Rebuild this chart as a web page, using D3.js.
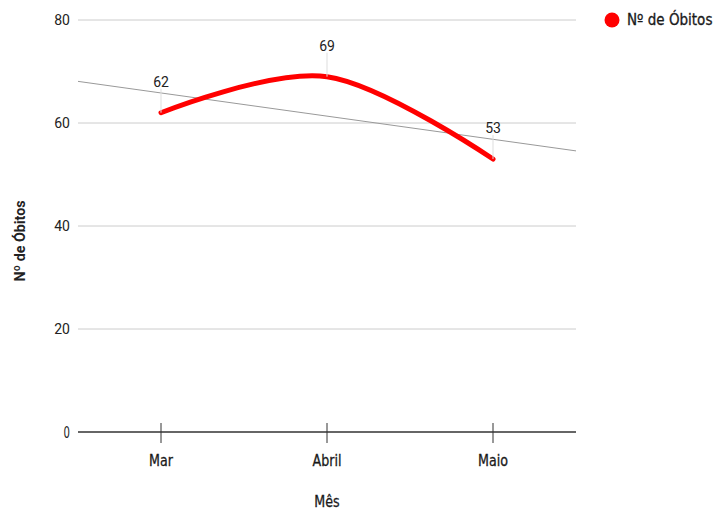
<!DOCTYPE html>
<html>
<head>
<meta charset="utf-8">
<script src="https://cdn.jsdelivr.net/npm/d3@7"></script>
<style>
  body { margin: 0; background: #fff; }
  svg { display: block; }
</style>
</head>
<body>
<svg id="chart" width="713" height="510"></svg>
<script>
// Monthly deaths
const months = ["Mar", "Abril", "Maio"];
const obitos = [62, 69, 53];
const yTicks = [0, 20, 40, 60, 80];
const seriesName = "Nº de Óbitos";
const xTitle = "Mês";
const yTitle = "Nº de Óbitos";

const svg = d3.select("#chart");
const plotLeft = 78, plotRight = 576, plotTop = 20, plotBottom = 432;

const x = d3.scalePoint().domain(months).range([plotLeft, plotRight]).padding(0.5);
const y = d3.scaleLinear().domain([0, 80]).range([plotBottom, plotTop]);

const condensed = "'DejaVu Sans Condensed', 'DejaVu Sans', sans-serif";
const plain = "Roboto, 'Liberation Sans', Arial, sans-serif";

// Squeeze text horizontally to a narrow face
function narrow(sel, factor) {
  sel.each(function () {
    const w = this.getComputedTextLength();
    d3.select(this).attr("textLength", w * factor).attr("lengthAdjust", "spacingAndGlyphs");
  });
}

// Horizontal gridlines
svg.append("g")
  .selectAll("line")
  .data(yTicks.filter(d => d > 0))
  .join("line")
  .attr("x1", plotLeft).attr("x2", plotRight)
  .attr("y1", d => y(d)).attr("y2", d => y(d))
  .attr("stroke", "#cccccc").attr("stroke-width", 1);

// Y tick labels
svg.append("g")
  .selectAll("text")
  .data(yTicks)
  .join("text")
  .attr("x", 70).attr("y", d => y(d))
  .attr("dy", "0.36em")
  .attr("text-anchor", "end")
  .attr("font-family", d => d === 0 ? condensed : plain)
  .attr("font-size", d => d === 0 ? 16 : 14)
  .attr("fill", "#222")
  .text(d => d)
  .filter(d => d === 0)
  .call(narrow, 0.7);

// Linear trendline (least squares on month index)
const idx = months.map((_, i) => i);
const mx = d3.mean(idx), my = d3.mean(obitos);
const slope = d3.sum(idx, i => (i - mx) * (obitos[i] - my)) / d3.sum(idx, i => (i - mx) ** 2);
const intercept = my - slope * mx;
const step = x.step();
const xAtIndex = i => x(months[0]) + i * step;
const iLeft = (plotLeft - x(months[0])) / step;
const iRight = (plotRight - x(months[0])) / step;
svg.append("line")
  .attr("x1", xAtIndex(iLeft)).attr("y1", y(intercept + slope * iLeft))
  .attr("x2", xAtIndex(iRight)).attr("y2", y(intercept + slope * iRight))
  .attr("stroke", "#999").attr("stroke-width", 1);

// Smoothed series line
const line = d3.line()
  .x((d, i) => x(months[i]))
  .y(d => y(d))
  .curve(d3.curveCardinal.tension(0));
svg.append("path")
  .datum(obitos)
  .attr("d", line)
  .attr("fill", "none")
  .attr("stroke", "#ff0000")
  .attr("stroke-width", 5)
  .attr("stroke-linecap", "round")
  .attr("stroke-linejoin", "round");

// Value annotations with leader lines
const ann = svg.append("g");
obitos.forEach((v, i) => {
  const px = x(months[i]), py = y(v);
  ann.append("line")
    .attr("x1", px).attr("x2", px)
    .attr("y1", py - 24).attr("y2", py)
    .attr("stroke", "#dddddd").attr("stroke-width", 1);
  ann.append("text")
    .attr("x", px).attr("y", py - 26)
    .attr("text-anchor", "middle")
    .attr("font-family", plain)
    .attr("font-size", 14)
    .attr("fill", "#222")
    .text(v);
});

// X axis baseline and ticks
svg.append("line")
  .attr("x1", plotLeft).attr("x2", plotRight)
  .attr("y1", plotBottom).attr("y2", plotBottom)
  .attr("stroke", "#333").attr("stroke-width", 1.5);
svg.append("g")
  .selectAll("line")
  .data(months)
  .join("line")
  .attr("x1", d => x(d)).attr("x2", d => x(d))
  .attr("y1", plotBottom - 9).attr("y2", plotBottom + 11)
  .attr("stroke", "#333").attr("stroke-width", 1);
svg.append("g")
  .selectAll("text")
  .data(months)
  .join("text")
  .attr("x", d => x(d)).attr("y", 466)
  .attr("text-anchor", "middle")
  .attr("font-family", condensed)
  .attr("font-size", 16)
  .attr("fill", "#1a1a1a")
  .attr("stroke", "#1a1a1a").attr("stroke-width", 0.3)
  .text(d => d)
  .call(narrow, 0.88);

// Axis titles
svg.append("text")
  .attr("x", (plotLeft + plotRight) / 2).attr("y", 507)
  .attr("text-anchor", "middle")
  .attr("font-family", condensed)
  .attr("font-size", 16)
  .attr("fill", "#1a1a1a")
  .attr("stroke", "#1a1a1a").attr("stroke-width", 0.3)
  .text(xTitle)
  .call(narrow, 0.88);
svg.append("text")
  .attr("transform", `translate(25, ${(plotTop + plotBottom) / 2 + 15}) rotate(-90)`)
  .attr("text-anchor", "middle")
  .attr("font-family", plain)
  .attr("font-size", 15)
  .attr("font-weight", "bold")
  .attr("fill", "#222")
  .text(yTitle)
  .call(narrow, 0.95);

// Legend
svg.append("circle")
  .attr("cx", 612).attr("cy", 20).attr("r", 7.5)
  .attr("fill", "#ff0000");
svg.append("text")
  .attr("x", 627).attr("y", 20)
  .attr("dy", "0.36em")
  .attr("font-family", condensed)
  .attr("font-size", 15)
  .attr("fill", "#1a1a1a")
  .attr("stroke", "#1a1a1a").attr("stroke-width", 0.3)
  .text(seriesName);
</script>
</body>
</html>
